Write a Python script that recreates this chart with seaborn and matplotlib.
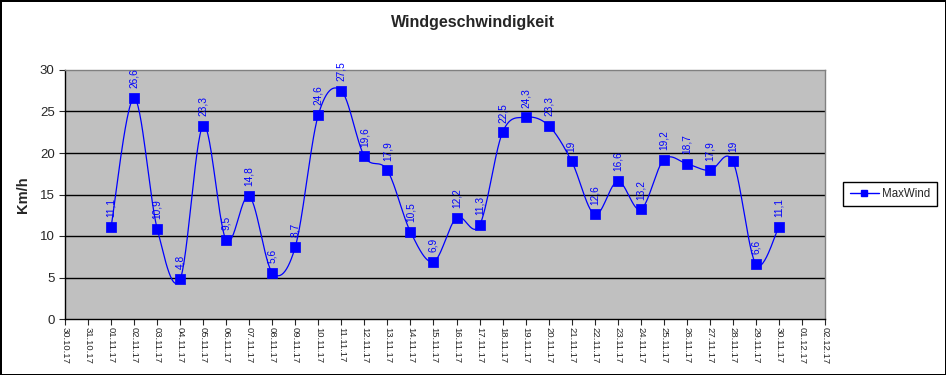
import matplotlib
matplotlib.use("Agg")
import matplotlib.pyplot as plt
import seaborn as sns
import numpy as np
import pandas as pd
from matplotlib.lines import Line2D

# Data
tick_labels = ['30.10.17', '31.10.17'] + ['%02d.11.17' % d for d in range(1, 31)] + ['01.12.17', '02.12.17']
days = ['%02d.11.17' % d for d in range(1, 31)]
max_wind = [11.1, 26.6, 10.9, 4.8, 23.3, 9.5, 14.8, 5.6, 8.7, 24.6,
            27.5, 19.6, 17.9, 10.5, 6.9, 12.2, 11.3, 22.5, 24.3, 23.3,
            19.0, 12.6, 16.6, 13.2, 19.2, 18.7, 17.9, 19.0, 6.6, 11.1]


def smooth_curve(x, y, steps=30):
    """Excel-like smoothed line (Bezier with Catmull-Rom control points)."""
    x = np.asarray(x, float)
    y = np.asarray(y, float)
    px = np.concatenate([[x[0]], x, [x[-1]]])
    py = np.concatenate([[y[0]], y, [y[-1]]])
    t = np.linspace(0, 1, steps)
    xs, ys = [], []
    for i in range(1, len(px) - 2):
        p0 = np.array([px[i], py[i]])
        p3 = np.array([px[i + 1], py[i + 1]])
        c1 = p0 + (p3 - np.array([px[i - 1], py[i - 1]])) / 6
        c2 = p3 - (np.array([px[i + 2], py[i + 2]]) - p0) / 6
        b = (np.outer((1 - t) ** 3, p0) + np.outer(3 * (1 - t) ** 2 * t, c1)
             + np.outer(3 * (1 - t) * t ** 2, c2) + np.outer(t ** 3, p3))
        xs.extend(b[:, 0])
        ys.extend(b[:, 1])
    return np.array(xs), np.array(ys)


df = pd.DataFrame({'day': days, 'MaxWind': max_wind})
df['pos'] = [tick_labels.index(d) for d in df['day']]

sns.set_style('white')
plt.rcParams['font.family'] = ['Liberation Sans', 'DejaVu Sans']

fig = plt.figure(figsize=(9.46, 3.75), dpi=100)
fig.patch.set_edgecolor('black')
fig.patch.set_linewidth(2)
ax = fig.add_axes([65 / 946, 1 - 319 / 375, 760 / 946, 249 / 375])
ax.set_facecolor('#c0c0c0')

sx, sy = smooth_curve(df['pos'], df['MaxWind'])
sns.lineplot(x=sx, y=sy, ax=ax, color='#0000ff', linewidth=0.9, sort=False, estimator=None)
sns.scatterplot(data=df, x='pos', y='MaxWind', ax=ax, marker='s', s=42,
                color='#0000ff', edgecolor='#0000ff', zorder=5)

# value labels above the points
for p, v in zip(df['pos'], df['MaxWind']):
    txt = ('%g' % v).replace('.', ',')
    ax.annotate(txt, (p, v), xytext=(0, 7), textcoords='offset points',
                rotation=90, ha='center', va='bottom', fontsize=7.3, color='#0000ff')

for g in [5, 10, 15, 20, 25]:
    ax.axhline(g, color='black', linewidth=1, zorder=1)

ax.set_xlim(0, len(tick_labels) - 1)
ax.set_ylim(0, 30)
ax.set_yticks(range(0, 31, 5))
ax.set_xticks(range(len(tick_labels)))
ax.set_xticklabels(tick_labels, rotation=270, fontsize=6.8)
ax.tick_params(axis='y', labelsize=9.5, length=4, width=0.8, direction='out', left=True)
ax.tick_params(axis='x', length=4, width=0.8, direction='out', bottom=True, pad=2)
ax.set_xlabel('')
ax.set_ylabel('Km/h', fontsize=10.5, fontweight='bold', labelpad=7)

for side in ['top', 'right']:
    ax.spines[side].set_color('#808080')
    ax.spines[side].set_linewidth(1)
for side in ['left', 'bottom']:
    ax.spines[side].set_color('black')
    ax.spines[side].set_linewidth(1)

fig.suptitle('Windgeschwindigkeit', x=0.5, y=1 - 22 / 375, va='center',
             fontsize=11.5, fontweight='bold')

handle = Line2D([], [], color='#0000ff', marker='s', markersize=5, linewidth=1)
fig.legend([handle], ['MaxWind'], loc='center', bbox_to_anchor=(890 / 946, 1 - 194 / 375),
           fontsize=8.3, frameon=True, fancybox=False, edgecolor='black',
           handlelength=2.5, borderpad=0.55, handletextpad=0.3, framealpha=1)

fig.savefig('out.png', dpi=100, edgecolor=fig.get_edgecolor())
